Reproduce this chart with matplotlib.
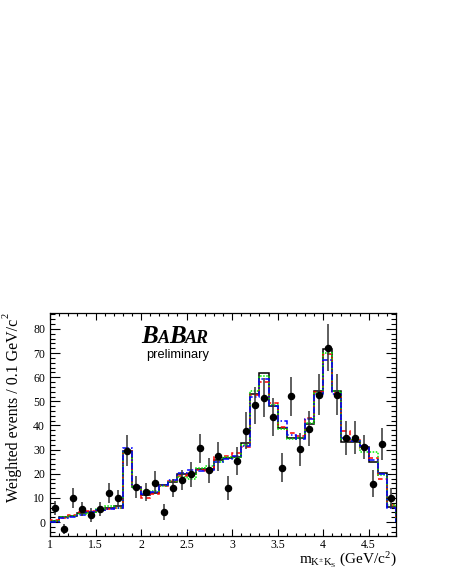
import numpy as np
import matplotlib
matplotlib.use("Agg")
import matplotlib.pyplot as plt
from matplotlib.ticker import MultipleLocator, FixedLocator, FixedFormatter

plt.rcParams['mathtext.fontset'] = 'custom'
plt.rcParams['mathtext.rm'] = 'Liberation Serif'
plt.rcParams['mathtext.it'] = 'Liberation Serif:italic'
plt.rcParams['font.family'] = ['Liberation Serif', 'DejaVu Serif']

# ---- data ----
bin_edges = [round(1.0 + 0.1 * i, 2) for i in range(39)]
bin_centers = [round(1.05 + 0.1 * i, 2) for i in range(38)]

data_y = [6.0, -3.0, 10.1, 5.4, 3.0, 5.4, 12.0, 9.8, 29.6, 14.5,
          12.4, 16.3, 4.1, 14.1, 17.3, 19.8, 30.5, 21.4, 27.2, 14.1,
          25.3, 37.8, 48.3, 51.5, 43.5, 22.5, 52.1, 30.1, 38.7, 52.8,
          72.2, 52.8, 34.7, 35.0, 31.0, 15.9, 32.2, 10.1]
data_err = [2.9, 2.0, 4.1, 2.8, 2.8, 3.0, 4.0, 3.6, 6.4, 4.6,
            3.6, 4.7, 3.3, 3.8, 4.1, 5.2, 6.1, 5.2, 6.1, 4.8,
            5.7, 7.6, 7.5, 8.0, 7.9, 6.1, 8.0, 6.9, 7.3, 8.5,
            9.7, 8.5, 7.0, 6.7, 5.1, 5.5, 6.7, 4.0]

fit_black = [0.5, 2.0, 2.5, 3.8, 4.0, 5.0, 6.0, 6.5, 29.5, 14.5,
             11.0, 12.0, 15.5, 16.5, 20.0, 20.0, 21.8, 22.0, 25.5, 26.5,
             27.0, 32.6, 52.9, 61.6, 47.9, 38.8, 35.0, 35.0, 40.5, 54.3,
             71.7, 54.4, 33.0, 33.0, 31.2, 25.0, 20.2, 6.4]
fit_red = [0.8, 1.8, 2.8, 4.2, 4.5, 5.3, 5.5, 6.0, 29.5, 14.0,
           10.0, 11.5, 14.8, 17.0, 19.0, 20.5, 21.5, 21.0, 27.0, 27.5,
           28.5, 31.0, 52.5, 58.0, 49.5, 39.5, 36.7, 35.6, 43.0, 54.0,
           69.5, 53.5, 37.8, 34.0, 30.5, 26.5, 18.0, 7.0]
fit_green = [0.3, 2.0, 2.5, 3.5, 3.8, 5.5, 6.8, 6.0, 29.0, 14.2,
             12.5, 13.0, 15.0, 17.0, 18.5, 18.0, 22.5, 23.0, 25.0, 27.0,
             26.5, 32.0, 54.3, 60.5, 48.5, 38.4, 34.4, 34.8, 41.0, 53.5,
             70.0, 54.4, 34.5, 34.0, 29.0, 29.0, 19.5, 7.2]
fit_blue = [0.2, 1.5, 2.2, 3.0, 4.2, 4.8, 5.2, 5.6, 30.8, 14.8,
            11.5, 12.5, 15.5, 17.5, 20.5, 21.5, 21.2, 21.6, 25.0, 26.0,
            27.2, 31.5, 52.0, 59.2, 48.0, 41.8, 36.0, 34.5, 42.5, 53.0,
            67.0, 53.0, 35.0, 33.5, 31.5, 25.5, 19.8, 6.0]

x_ticks = [1, 1.5, 2, 2.5, 3, 3.5, 4, 4.5]
x_tick_labels = ["1", "1.5", "2", "2.5", "3", "3.5", "4", "4.5"]
y_ticks = [0, 10, 20, 30, 40, 50, 60, 70, 80]
y_tick_labels = ["0", "10", "20", "30", "40", "50", "60", "70", "80"]

# ---- figure ----
W, H = 450, 582
fig = plt.figure(figsize=(W / 100, H / 100), dpi=100)
ax = fig.add_axes([50 / W, 1 - 536 / H, 346 / W, 223 / H])

ax.stairs(fit_black, bin_edges, color='black', lw=1.1, zorder=2)
ax.stairs(fit_red, bin_edges, color='#ff0000', lw=1.1, ls=(0, (3, 2)), zorder=3)
ax.stairs(fit_green, bin_edges, color='#00ee00', lw=1.1, ls=(0, (1, 1)), zorder=3)
ax.stairs(fit_blue, bin_edges, color='#0000ff', lw=1.1, ls=(0, (4, 1.5, 1, 1.5)), zorder=3)

ax.errorbar(bin_centers, data_y, yerr=data_err, fmt='o', color='black',
            ms=4.4, ecolor='#333333', elinewidth=1.1, capsize=0, zorder=5)

ax.set_xlim(1.0, 4.8)
ax.set_ylim(-5.8, 86.6)

ax.xaxis.set_major_locator(FixedLocator(x_ticks))
ax.xaxis.set_major_formatter(FixedFormatter(x_tick_labels))
ax.xaxis.set_minor_locator(MultipleLocator(0.1))
ax.yaxis.set_major_locator(FixedLocator(y_ticks))
ax.yaxis.set_major_formatter(FixedFormatter(y_tick_labels))
ax.yaxis.set_minor_locator(MultipleLocator(2))

ax.tick_params(which='both', direction='in', top=True, right=True,
               labelsize=8.5, width=0.8, colors='black')
ax.tick_params(axis='x', which='major', length=4.8, pad=2.5)
ax.tick_params(axis='x', which='minor', length=2.4)
ax.tick_params(axis='y', which='major', length=7.5, pad=3.5)
ax.tick_params(axis='y', which='minor', length=3.7)
for s in ax.spines.values():
    s.set_linewidth(0.9)

# axis titles
fig.text(14 / W, 1 - 319 / H, "Weighted events / 0.1 GeV/c", rotation=90,
         ha='center', va='top', fontsize=11.5, family='Liberation Serif')
fig.text(6 / W, 1 - 313 / H, "2", rotation=90, ha='center', va='top',
         fontsize=7.5, family='Liberation Serif')
fig.text(397 / W, 1 - 560 / H, r"m$_{\mathrm{K^{\pm}K_{S}}}$ (GeV/c$^{2}$)",
         ha='right', va='center', fontsize=11, family='Liberation Serif')

# BaBar logo
fig.canvas.draw()
renderer = fig.canvas.get_renderer()
x0 = 141.5
base_y = 1 - 343 / H
parts = [("B", 18), ("A", 13), ("B", 18), ("AR", 13)]
xpos = x0
for txt, fs in parts:
    t = fig.text(xpos / W, base_y, txt, fontsize=fs, family='Liberation Serif',
                 weight='bold', style='italic', ha='left', va='baseline')
    bb = t.get_window_extent(renderer=renderer)
    xpos = bb.x1 - 0.5
fig.text(178 / W, 1 - 355 / H, "preliminary", ha='center', va='center',
         fontsize=9.3, family='Liberation Sans')

fig.savefig("out.png", dpi=100)
